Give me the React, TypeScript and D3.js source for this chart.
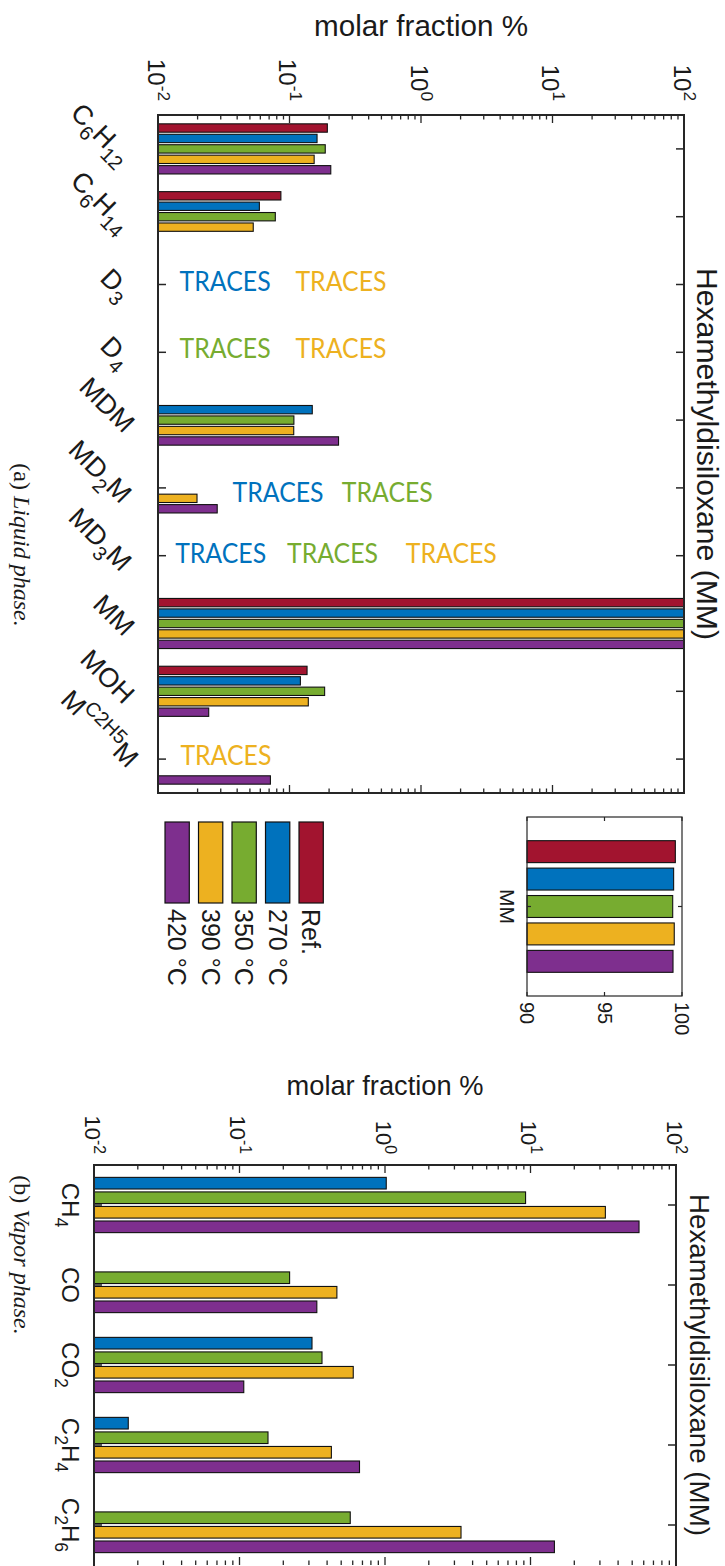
import React from "react";
import * as d3 from "d3";

// ---------- data ----------
const seriesNames = ["Ref.", "270 °C", "350 °C", "390 °C", "420 °C"];
const seriesColors = ["#A2142F", "#0072BD", "#77AC30", "#EDB120", "#7E2F8E"];

const liquidCategories = ["C6H12", "C6H14", "D3", "D4", "MDM", "MD2M", "MD3M", "MM", "MOH", "MC2H5M"];
type Part = [string, "n" | "sub" | "sup"];
const liquidLabels: Part[][] = [
  [["C", "n"], ["6", "sub"], ["H", "n"], ["12", "sub"]],
  [["C", "n"], ["6", "sub"], ["H", "n"], ["14", "sub"]],
  [["D", "n"], ["3", "sub"]],
  [["D", "n"], ["4", "sub"]],
  [["MDM", "n"]],
  [["MD", "n"], ["2", "sub"], ["M", "n"]],
  [["MD", "n"], ["3", "sub"], ["M", "n"]],
  [["MM", "n"]],
  [["MOH", "n"]],
  [["M", "n"], ["C2H5", "sup"], ["M", "n"]],
];

// molar fraction % per series, null where no bar is drawn
const liquidRef = [0.194, 0.086, null, null, null, null, null, 99.57, 0.136, null];
const liquid270 = [0.162, 0.059, null, null, 0.149, null, null, 99.46, 0.121, null];
const liquid350 = [0.187, 0.078, null, null, 0.108, null, null, 99.4, 0.185, null];
const liquid390 = [0.154, 0.053, null, null, 0.1077, 0.0198, null, 99.5, 0.139, null];
const liquid420 = [0.206, null, null, null, 0.236, 0.0282, null, 99.42, 0.0243, 0.0716];
const liquidSeries = [liquidRef, liquid270, liquid350, liquid390, liquid420];

// "TRACES" notes: category, series index, starting value on the log axis, shift in band units
const traceCategory = ["D3", "D3", "D4", "D4", "MD2M", "MD2M", "MD3M", "MD3M", "MD3M", "MC2H5M"];
const traceSeries = [1, 3, 2, 3, 1, 2, 1, 2, 3, 3];
const traceAt = [0.0146, 0.111, 0.0146, 0.111, 0.0369, 0.25, 0.0135, 0.0957, 0.767, 0.0148];
const traceShift = [0, 0, 0, 0, 0.12, 0.12, 0.02, 0.02, 0.02, 0];

const vaporCategories = ["CH4", "CO", "CO2", "C2H4", "C2H6"];
const vaporLabels: Part[][] = [
  [["CH", "n"], ["4", "sub"]],
  [["CO", "n"]],
  [["CO", "n"], ["2", "sub"]],
  [["C", "n"], ["2", "sub"], ["H", "n"], ["4", "sub"]],
  [["C", "n"], ["2", "sub"], ["H", "n"], ["6", "sub"]],
];
const vaporSeriesIdx = [1, 2, 3, 4];
const vapor270 = [1.02, null, 0.315, 0.0172, null];
const vapor350 = [9.25, 0.221, 0.369, 0.157, 0.577];
const vapor390 = [32.7, 0.467, 0.605, 0.428, 3.33];
const vapor420 = [55.7, 0.34, 0.107, 0.668, 14.6];
const vaporSeries = [vapor270, vapor350, vapor390, vapor420];

const logTicks = [0.01, 0.1, 1, 10, 100];
const logExponents = ["-2", "-1", "0", "1", "2"];
const insetTicks = [90, 95, 100];

// ---------- helpers ----------
const FONT = "'Liberation Sans', Arial, Helvetica, sans-serif";
const SERIF = "'Liberation Serif', 'Times New Roman', serif";
const AX = "#262626";

function Rich({ parts, size }: { parts: Part[]; size: number }) {
  let cur = 0;
  return (
    <>
      {parts.map(([t, k], i) => {
        const target = k === "sub" ? 0.3 * size : k === "sup" ? -0.42 * size : 0;
        const dy = target - cur;
        cur = target;
        return (
          <tspan key={i} dy={dy} fontSize={k === "n" ? size : 0.74 * size}>
            {t}
          </tspan>
        );
      })}
    </>
  );
}

function minorValues(lo: number, hi: number) {
  const out: number[] = [];
  for (let e = Math.log10(lo); e < Math.log10(hi); e++) {
    for (let m = 2; m <= 9; m++) out.push(m * Math.pow(10, e));
  }
  return out;
}

function LogAxisTicks({ x, top, bottom }: { x: d3.ScaleLogarithmic<number, number>; top: number; bottom: number }) {
  const [lo, hi] = x.domain();
  return (
    <g stroke={AX} strokeWidth={1.3}>
      {logTicks.map((v) => (
        <g key={"M" + v}>
          <line x1={x(v)} x2={x(v)} y1={top} y2={top + 8} />
          <line x1={x(v)} x2={x(v)} y1={bottom} y2={bottom - 8} />
        </g>
      ))}
      {minorValues(lo, hi).map((v) => (
        <g key={"m" + v}>
          <line x1={x(v)} x2={x(v)} y1={top} y2={top + 4.5} />
          <line x1={x(v)} x2={x(v)} y1={bottom} y2={bottom - 4.5} />
        </g>
      ))}
    </g>
  );
}

function TickLabels({ x, yEnd, size }: { x: d3.ScaleLogarithmic<number, number>; yEnd: number; size: number }) {
  return (
    <g fontFamily={FONT} fill="#1a1a1a">
      {logTicks.map((v, i) => (
        <text key={v} transform={`translate(${x(v)},${yEnd}) rotate(90)`} y={0.42 * size} textAnchor="end" fontSize={size}>
          10
          <tspan dy={-0.42 * size} fontSize={0.72 * size}>
            {logExponents[i]}
          </tspan>
        </text>
      ))}
    </g>
  );
}

export default function App() {
  // ---------- liquid phase ----------
  const tL = 158, tR = 684, tT = 115, tB = 793;
  const xTop = d3.scaleLog().domain([0.01, 100]).range([tL, tR]);
  const yTop = d3.scaleBand<string>().domain(liquidCategories).range([tT, tB]);
  const gTop = yTop.bandwidth() * 0.77;
  const inTop = d3.scaleBand<number>().domain([0, 1, 2, 3, 4]).range([-gTop / 2, gTop / 2]).paddingInner(0.2).paddingOuter(0.1);
  const cTop = (c: string) => (yTop(c) as number) + yTop.bandwidth() / 2;

  // ---------- vapor phase ----------
  const bL = 94, bR = 676, bT = 1165, bB = 1565;
  const xBot = d3.scaleLog().domain([0.01, 100]).range([bL, bR]);
  const yBot = d3.scaleBand<string>().domain(vaporCategories).range([bT, bB]);
  const gBot = yBot.bandwidth() * 0.727;
  const inBot = d3.scaleBand<number>().domain([0, 1, 2, 3]).range([-gBot / 2, gBot / 2]).paddingInner(0.2).paddingOuter(0.1);
  const cBot = (c: string) => (yBot(c) as number) + yBot.bandwidth() / 2;

  // ---------- inset ----------
  const iL = 527, iR = 682, iT = 817, iB = 996;
  const xIn = d3.scaleLinear().domain([90, 100]).range([iL, iR]);
  const yIn = d3.scaleBand<string>().domain(["MM"]).range([iT, iB]);
  const gIn = yIn.bandwidth() * 0.766;
  const inIn = d3.scaleBand<number>().domain([0, 1, 2, 3, 4]).range([-gIn / 2, gIn / 2]).paddingInner(0.2).paddingOuter(0.1);
  const mmIndex = liquidCategories.indexOf("MM");
  const cIn = (yIn("MM") as number) + yIn.bandwidth() / 2;

  // ---------- legend ----------
  const legendOrder = [4, 3, 2, 1, 0];
  const xLeg = d3.scaleBand<number>().domain(legendOrder).range([160.4, 160.4 + 5 * 33.5]).paddingInner(0.275).paddingOuter(0.1375);
  const legTop = 822, legBottom = 903;

  const catTick = 8;
  const labelSize = 27;

  return (
    <svg width={725} height={1566} style={{ position: "absolute", left: 0, top: 0, display: "block", background: "#fff" }}>
      <rect x={0} y={0} width={725} height={1566} fill="#fff" />

      {/* ===== liquid phase panel ===== */}
      <text x={(tL + tR) / 2} y={36} textAnchor="middle" fontFamily={FONT} fontSize={30} fill="#1a1a1a" textLength={214} lengthAdjust="spacingAndGlyphs">
        molar fraction %
      </text>
      <TickLabels x={xTop} yEnd={101} size={24} />
      <LogAxisTicks x={xTop} top={tT} bottom={tB} />
      <g stroke={AX} strokeWidth={1.5}>
        {liquidCategories.map((c) => (
          <g key={c}>
            <line x1={tL} x2={tL + catTick} y1={cTop(c)} y2={cTop(c)} />
            <line x1={tR} x2={tR - catTick} y1={cTop(c)} y2={cTop(c)} />
          </g>
        ))}
      </g>
      <g>
        {liquidSeries.map((vals, s) =>
          vals.map((v, i) =>
            v == null ? null : (
              <rect
                key={s + "-" + i}
                x={tL}
                width={xTop(v) - tL}
                y={cTop(liquidCategories[i]) + (inTop(s) as number)}
                height={inTop.bandwidth()}
                fill={seriesColors[s]}
                stroke="#111"
                strokeWidth={1.1}
              />
            )
          )
        )}
      </g>
      <rect x={tL} y={tT} width={tR - tL} height={tB - tT} fill="none" stroke={AX} strokeWidth={2} />
      <g fontFamily="Lato, 'Noto Sans', sans-serif" fontSize={27}>
        {traceCategory.map((c, i) => (
          <text
            key={i}
            x={xTop(traceAt[i])}
            y={cTop(c) + 6 + traceShift[i] * yTop.bandwidth()}
            fill={seriesColors[traceSeries[i]]}
            textLength={91}
            lengthAdjust="spacingAndGlyphs"
          >
            TRACES
          </text>
        ))}
      </g>
      <g fontFamily={FONT} fill="#1a1a1a">
        {liquidLabels.map((parts, i) => {
          const hasSub = parts.some((p) => p[1] === "sub");
          const hasSup = parts.some((p) => p[1] === "sup");
          const yOff = 0.35 * labelSize + (hasSub ? 0.15 * labelSize : 0) - (hasSup ? 0.2 * labelSize : 0);
          return (
            <text key={i} transform={`translate(130,${cTop(liquidCategories[i]) + 7.3}) rotate(45)`} y={yOff} textAnchor="end" fontSize={labelSize}>
              <Rich parts={parts} size={labelSize} />
            </text>
          );
        })}
      </g>
      <text transform={`translate(697,${(tT + tB) / 2}) rotate(90)`} textAnchor="middle" fontFamily={FONT} fontSize={29} fill="#1a1a1a" textLength={372} lengthAdjust="spacingAndGlyphs">
        Hexamethyldisiloxane (MM)
      </text>

      {/* legend */}
      <g>
        {legendOrder.map((s) => (
          <g key={s}>
            <rect x={xLeg(s)} y={legTop} width={xLeg.bandwidth()} height={legBottom - legTop} fill={seriesColors[s]} stroke="#111" strokeWidth={1.2} />
            <text
              transform={`translate(${(xLeg(s) as number) + xLeg.bandwidth() / 2 - 9},${legBottom + 6}) rotate(90)`}
              fontFamily={FONT}
              fontSize={25}
              fill="#1a1a1a"
            >
              {seriesNames[s]}
            </text>
          </g>
        ))}
      </g>

      {/* inset: MM close-up on a linear axis */}
      <g>
        {liquidSeries.map((vals, s) => (
          <rect
            key={s}
            x={iL}
            width={xIn(vals[mmIndex] as number) - iL}
            y={cIn + (inIn(s) as number)}
            height={inIn.bandwidth()}
            fill={seriesColors[s]}
            stroke="#111"
            strokeWidth={1.1}
          />
        ))}
        <rect x={iL} y={iT} width={iR - iL} height={iB - iT} fill="none" stroke={AX} strokeWidth={1.2} />
        <g stroke={AX} strokeWidth={1.2}>
          {insetTicks.map((v) => (
            <g key={v}>
              <line x1={xIn(v)} x2={xIn(v)} y1={iT} y2={iT + 4} />
              <line x1={xIn(v)} x2={xIn(v)} y1={iB} y2={iB - 4} />
            </g>
          ))}
          <line x1={iR} x2={iR - 4} y1={cIn} y2={cIn} />
          <line x1={iL} x2={iL + 4} y1={cIn} y2={cIn} />
        </g>
        <g fontFamily={FONT} fontSize={20} fill="#1a1a1a">
          {insetTicks.map((v) => (
            <text key={v} transform={`translate(${xIn(v) - 7},${iB + 6}) rotate(90)`}>
              {v}
            </text>
          ))}
        </g>
        <text transform={`translate(500,${cIn}) rotate(90)`} textAnchor="middle" fontFamily={FONT} fontSize={21} fill="#1a1a1a">
          MM
        </text>
      </g>

      <text transform={`translate(14,545) rotate(90)`} textAnchor="middle" fontFamily={SERIF} fontSize={24} fill="#1a1a1a">
        (a) <tspan fontStyle="italic">Liquid phase.</tspan>
      </text>

      {/* ===== vapor phase panel ===== */}
      <text x={(bL + bR) / 2} y={1095} textAnchor="middle" fontFamily={FONT} fontSize={27.5} fill="#1a1a1a" textLength={197} lengthAdjust="spacingAndGlyphs">
        molar fraction %
      </text>
      <TickLabels x={xBot} yEnd={1154} size={22} />
      <LogAxisTicks x={xBot} top={bT} bottom={bB} />
      <g stroke={AX} strokeWidth={1.5}>
        {vaporCategories.map((c) => (
          <g key={c}>
            <line x1={bL} x2={bL + catTick} y1={cBot(c)} y2={cBot(c)} />
            <line x1={bR} x2={bR - catTick} y1={cBot(c)} y2={cBot(c)} />
          </g>
        ))}
      </g>
      <g>
        {vaporSeries.map((vals, k) =>
          vals.map((v, i) =>
            v == null ? null : (
              <rect
                key={k + "-" + i}
                x={bL}
                width={xBot(v) - bL}
                y={cBot(vaporCategories[i]) + (inBot(k) as number)}
                height={inBot.bandwidth()}
                fill={seriesColors[vaporSeriesIdx[k]]}
                stroke="#111"
                strokeWidth={1.1}
              />
            )
          )
        )}
      </g>
      <rect x={bL} y={bT} width={bR - bL} height={bB - bT + 4} fill="none" stroke={AX} strokeWidth={2} />
      <g fontFamily={FONT} fill="#1a1a1a">
        {vaporLabels.map((parts, i) => (
          <text key={i} transform={`translate(62,${cBot(vaporCategories[i])}) rotate(90)`} textAnchor="middle" fontSize={24}>
            <Rich parts={parts} size={24} />
          </text>
        ))}
      </g>
      <text transform={`translate(690,${(bT + bB) / 2}) rotate(90)`} textAnchor="middle" fontFamily={FONT} fontSize={27} fill="#1a1a1a" textLength={342} lengthAdjust="spacingAndGlyphs">
        Hexamethyldisiloxane (MM)
      </text>
      <text transform={`translate(14,1255) rotate(90)`} textAnchor="middle" fontFamily={SERIF} fontSize={24} fill="#1a1a1a">
        (b) <tspan fontStyle="italic">Vapor phase.</tspan>
      </text>
    </svg>
  );
}
